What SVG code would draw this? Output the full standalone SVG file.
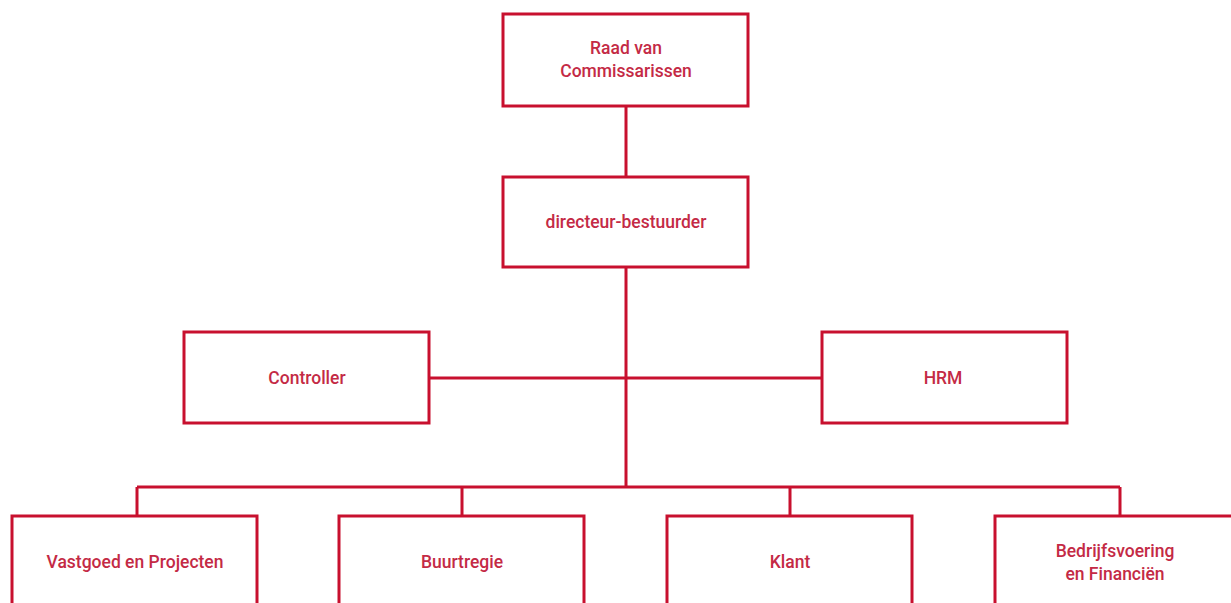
<svg xmlns="http://www.w3.org/2000/svg" width="1231" height="603" viewBox="0 0 1231 603">
<style>
.box{fill:#fff;stroke:#c8102e;stroke-width:3}
.ln{fill:none;stroke:#c8102e;stroke-width:3}
text{font-family:Roboto,"Liberation Sans",sans-serif;font-size:17.5px;font-weight:500;fill:#c42a45;text-anchor:middle;dominant-baseline:central}
</style>
<rect width="1231" height="603" fill="#fff"/>
<g id="connectors">
<path class="ln" d="M626 106V177M626 267V487M430 378H822M137 487H1120M137 487V516M462 487V516M790 487V516M1120 487V516"/>
</g>
<g id="raad"><rect class="box" x="503" y="14" width="245" height="92"/><text x="626" y="48">Raad van</text><text x="626" y="71">Commissarissen</text></g>
<g id="directeur"><rect class="box" x="503" y="177" width="245" height="90"/><text x="626" y="222">directeur-bestuurder</text></g>
<g id="controller"><rect class="box" x="184" y="332" width="245" height="91"/><text x="307" y="378">Controller</text></g>
<g id="hrm"><rect class="box" x="822" y="332" width="245" height="91"/><text x="943" y="378">HRM</text></g>
<g id="vastgoed"><rect class="box" x="12" y="516" width="245" height="110"/><text x="135" y="562">Vastgoed en Projecten</text></g>
<g id="buurtregie"><rect class="box" x="339" y="516" width="245" height="110"/><text x="462" y="562">Buurtregie</text></g>
<g id="klant"><rect class="box" x="667" y="516" width="245" height="110"/><text x="790" y="562">Klant</text></g>
<g id="bedrijfsvoering"><rect class="box" x="995" y="516" width="245" height="110"/><text x="1115" y="551">Bedrijfsvoering</text><text x="1115" y="574">en Financiën</text></g>
</svg>
